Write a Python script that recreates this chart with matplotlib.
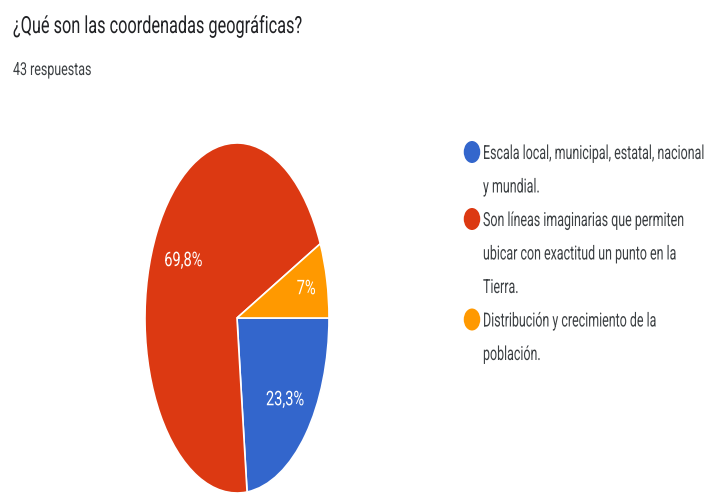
import numpy as np
import matplotlib
matplotlib.use("Agg")
import matplotlib.pyplot as plt
from matplotlib.patches import Ellipse
from matplotlib.patheffects import AbstractPathEffect
from matplotlib.transforms import Affine2D

# ---- data ----
title = "¿Qué son las coordenadas geográficas?"
subtitle = "43 respuestas"
labels = [
    "Escala local, municipal, estatal, nacional\ny mundial.",
    "Son líneas imaginarias que permiten\nubicar con exactitud un punto en la\nTierra.",
    "Distribución y crecimiento de la\npoblación.",
]
counts = [10, 30, 3]
colors = ["#3366CC", "#DC3912", "#FF9900"]

FONT = ["Roboto", "DejaVu Sans"]


class Squeeze(AbstractPathEffect):
    """Horizontally condense glyph outlines (the reference text is narrow)."""

    def __init__(self, sx, anchor="left"):
        super().__init__((0, 0))
        self.sx = sx
        self.anchor = anchor

    def draw_path(self, renderer, gc, tpath, affine, rgbFace=None):
        cx = 0.0
        if self.anchor == "center":
            ext = tpath.get_extents()
            cx = (ext.x0 + ext.x1) / 2
        t = Affine2D().translate(-cx, 0).scale(self.sx, 1).translate(cx, 0) + affine
        renderer.draw_path(gc, tpath, t, rgbFace)


W, H = 707, 493
fig = plt.figure(figsize=(W / 100, H / 100), dpi=100)
fig.patch.set_facecolor("white")

# ---- pie (stretched vertically like the reference) ----
cx, cy, rx, ry = 237, 318, 92, 175
ax = fig.add_axes([(cx - rx) / W, (H - cy - ry) / H, 2 * rx / W, 2 * ry / H])


def fmt(p):
    s = f"{round(p, 1):g}".replace(".", ",")
    return s + "%"


wedges, texts, autotexts = ax.pie(
    counts,
    colors=colors,
    startangle=0,
    counterclock=False,
    autopct=fmt,
    pctdistance=0.70,
    wedgeprops=dict(edgecolor="white", linewidth=1.2),
    textprops=dict(color="white", fontsize=14.5, family=FONT),
)
ax.set_aspect("auto")
ax.set_xlim(-1, 1)
ax.set_ylim(-1, 1)
ax.axis("off")
label_dist = [0.70, 0.67, 0.77]
for w, t, d in zip(wedges, autotexts, label_dist):
    w.set_clip_on(False)
    ang = np.deg2rad((w.theta1 + w.theta2) / 2)
    t.set_position((d * np.cos(ang), d * np.sin(ang)))
    t.set_path_effects([Squeeze(0.725, "center")])

# ---- overlay for titles and legend (pixel coordinates) ----
ov = fig.add_axes([0, 0, 1, 1])
ov.set_xlim(0, W)
ov.set_ylim(H, 0)
ov.axis("off")
ov.patch.set_visible(False)

t1 = ov.text(13, 33, title, fontsize=17, color="#202124", family=FONT,
             ha="left", va="baseline")
t1.set_path_effects([Squeeze(0.69)])
t2 = ov.text(13, 75, subtitle, fontsize=12.8, color="#3c4043", family=FONT,
             ha="left", va="baseline")
t2.set_path_effects([Squeeze(0.70)])

base0 = 159
step = 33.5
line = 0
for lab, col in zip(labels, colors):
    y_first = base0 + line * step
    ov.add_patch(Ellipse((472, y_first - 7), 16.5, 22, facecolor=col, edgecolor="none"))
    for k, part in enumerate(lab.split("\n")):
        tt = ov.text(483, y_first + k * step, part, fontsize=14, color="#3c4043",
                     family=FONT, ha="left", va="baseline")
        tt.set_path_effects([Squeeze(0.64)])
    line += len(lab.split("\n"))

fig.savefig("out.png", dpi=100)
